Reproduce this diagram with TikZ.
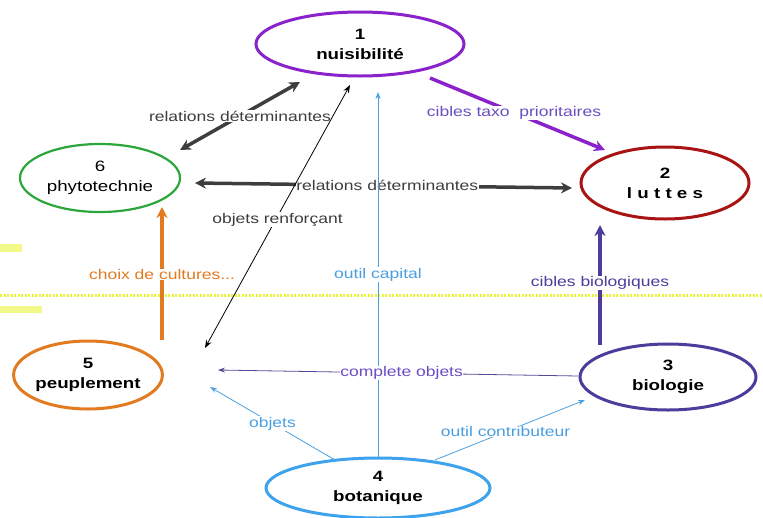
\documentclass[tikz,border=0pt]{standalone}
\usepackage{fontspec}
\setmainfont[FakeStretch=1.25]{Liberation Sans}
\usetikzlibrary{shapes.geometric,arrows.meta}
\definecolor{cpurple}{HTML}{8A22CC}
\definecolor{cred}{HTML}{A81414}
\definecolor{cgreen}{HTML}{2AA63A}
\definecolor{corange}{HTML}{E27B20}
\definecolor{cindigo}{HTML}{4D3C9C}
\definecolor{cblue}{HTML}{3EA2EC}
\definecolor{cgray}{HTML}{3E3E3E}
\definecolor{lblpurple}{HTML}{6A4FC4}
\definecolor{lblblue}{HTML}{4A9FE0}
\definecolor{cyellow}{HTML}{E8F53A}
\tikzset{
  ell/.style={ellipse, line width=3pt, inner sep=0pt, align=center, font=\fontsize{15}{20}\selectfont\bfseries, text=black},
  lbl/.style={font=\fontsize{14}{16}\selectfont, fill=white, inner sep=0.5pt},
  thickarr/.style={line width=3.5pt, -{Stealth[length=11pt,width=11pt]}},
  thinarr/.style={line width=0.8pt, -{Stealth[length=7pt,width=5pt]}},
}
\begin{document}
\begin{tikzpicture}[x=1pt,y=-1pt]
\useasboundingbox (0,0) rectangle (763,517);
% yellow marks
\fill[cyellow!60] (0,244) rectangle (22,252);
\fill[cyellow!60] (0,306) rectangle (42,313);
\draw[cyellow, line width=3pt, dash pattern=on 2pt off 1.5pt] (0,295) -- (763,295);
% nodes
\node[ell, draw=cpurple, minimum width=208pt, minimum height=64pt] (n1) at (360,44) {1\\nuisibilité};
\node[ell, draw=cred, minimum width=168pt, minimum height=72pt] (n2) at (665,183) {2\\l u t t e s};
\node[ell, draw=cgreen, line width=2.2pt, minimum width=160pt, minimum height=68pt, font=\fontsize{15}{20}\selectfont] (n6) at (100,178) {6\\phytotechnie};
\node[ell, draw=corange, minimum width=146pt, minimum height=68pt] (n5) at (88,375) {5\\peuplement};
\node[ell, draw=cindigo, minimum width=176pt, minimum height=66pt] (n3) at (668,377) {3\\biologie};
\node[ell, draw=cblue, minimum width=224pt, minimum height=60pt] (n4) at (378,488) {4\\botanique};
% connectors
\draw[cgray, line width=3.5pt, {Stealth[length=11pt,width=11pt]}-{Stealth[length=11pt,width=11pt]}]
  ([shift={(80,-28)}]n6.center) -- node[lbl, text=cgray, pos=0.5] {relations déterminantes} ([shift={(-60,38)}]n1.center);
\draw[cgray, line width=3.5pt, {Stealth[length=11pt,width=11pt]}-{Stealth[length=11pt,width=11pt]}]
  ([shift={(95,5)}]n6.center) -- node[lbl, text=cgray, pos=0.51] {relations déterminantes} ([shift={(-93,5)}]n2.center);
\draw[black, line width=0.8pt, {Stealth[length=8pt,width=6pt]}-{Stealth[length=8pt,width=6pt]}]
  ([shift={(117,-27)}]n5.center) -- node[lbl, text=cgray, pos=0.5, yshift=-3pt] {objets renforçant} ([shift={(-10,41)}]n1.center);
\draw[cpurple, thickarr] ([shift={(70,34)}]n1.center) -- node[lbl, text=lblpurple, pos=0.48] {cibles taxo\ \ prioritaires} ([shift={(-60,-33)}]n2.center);
\draw[cindigo, thickarr] ([shift={(-68,-32)}]n3.center) -- node[lbl, text=cindigo, pos=0.52] {cibles biologiques} ([shift={(-65,42)}]n2.center);
\draw[corange, thickarr] ([shift={(74,-35)}]n5.center) -- node[lbl, text=corange, pos=0.49] {choix de cultures...} ([shift={(62,29)}]n6.center);
\draw[lblblue, thinarr] ([shift={(0,-31)}]n4.center) -- node[lbl, text=lblblue, pos=0.5] {outil capital} ([shift={(18,48)}]n1.center);
\draw[cindigo!80!gray, thinarr] ([shift={(-90,-1)}]n3.center) -- node[lbl, text=lblpurple, pos=0.49] {complete objets} ([shift={(130,-5)}]n5.center);
\draw[lblblue, thinarr] ([shift={(-43,-28)}]n4.center) -- node[lbl, text=lblblue, pos=0.5] {objets} ([shift={(122,12)}]n5.center);
\draw[lblblue, thinarr] ([shift={(57,-28)}]n4.center) -- node[lbl, text=lblblue, pos=0.47] {outil contributeur} ([shift={(-83,23)}]n3.center);
\end{tikzpicture}
\end{document}
